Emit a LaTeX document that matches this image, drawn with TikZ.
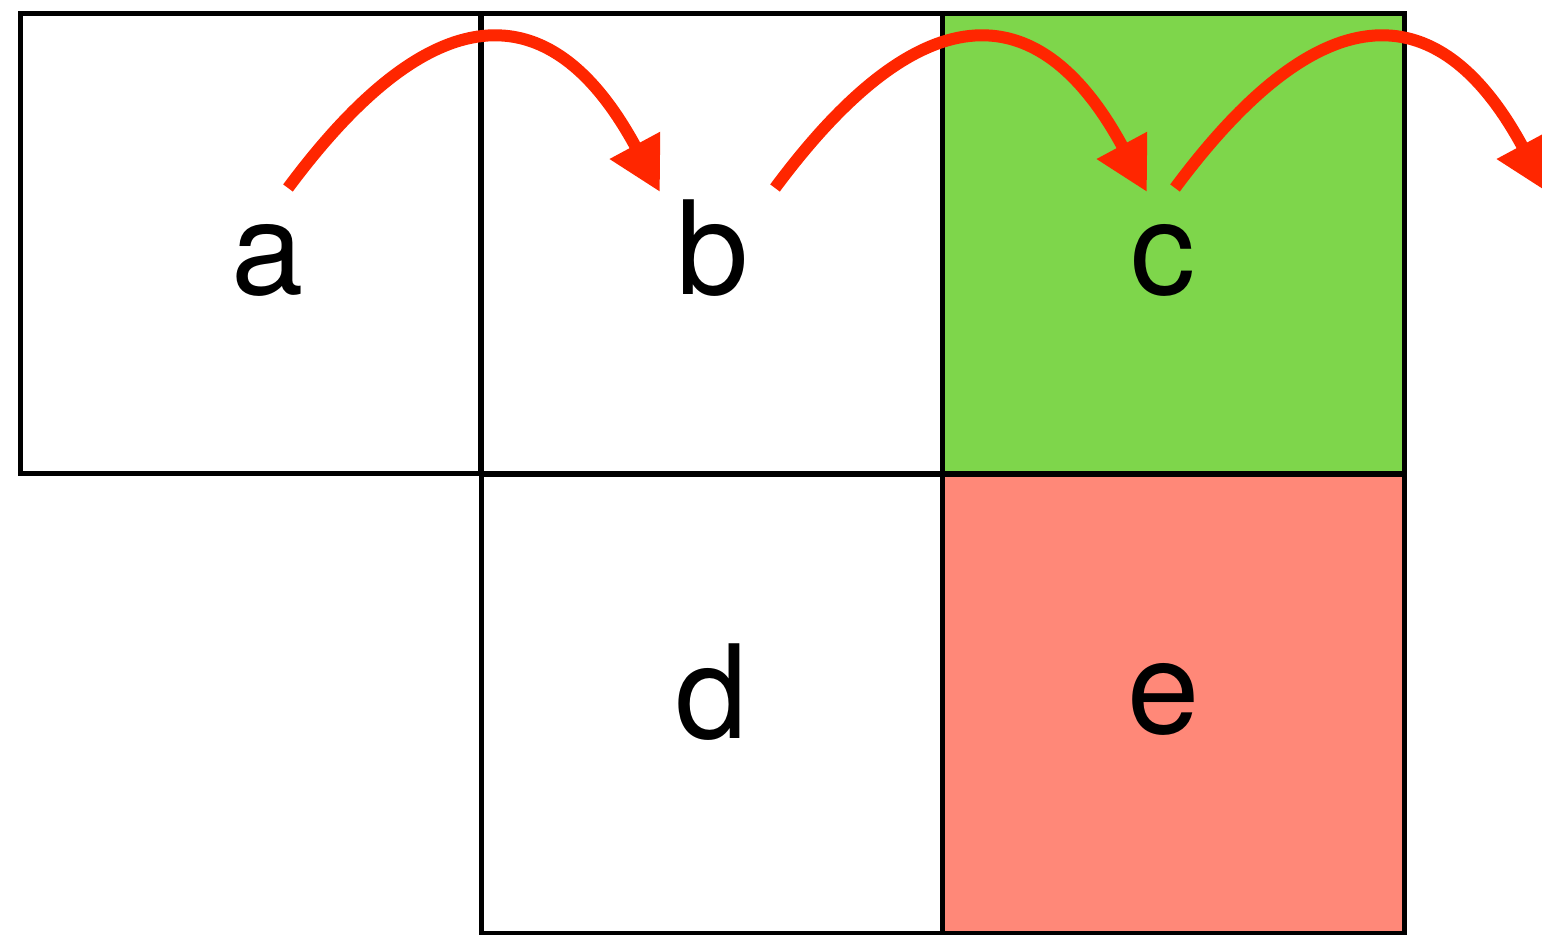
\documentclass[tikz,border=0pt]{standalone}
\usepackage{fontspec}
\setmainfont{TeX Gyre Heros}
\usetikzlibrary{arrows.meta}
\definecolor{cellgreen}{HTML}{7ED64B}
\definecolor{cellred}{HTML}{FF8878}
\definecolor{arrowred}{HTML}{FF2600}
\tikzset{
  cell/.style={draw=black, line width=2.5pt, minimum width=230.5pt, minimum height=230pt, inner sep=0pt, outer sep=0pt},
  lbl/.style={anchor=base, font=\fontsize{65}{78}\selectfont, inner sep=0pt},
  hop/.style={draw=arrowred, line width=6pt, -{Triangle[length=26.5pt,width=27pt]}}
}
\begin{document}
\begin{tikzpicture}[x=0.5pt,y=-0.5pt]
\useasboundingbox (0,0) rectangle (1542,935);
\clip (0,0) rectangle (1542,935);
% cells
\node[cell, fill=cellred, minimum height=229pt, minimum width=231pt] (boxe) at (1173,704) {};
\node[cell, fill=cellgreen, minimum width=231pt] (boxc) at (1173,244) {};
\node[cell, minimum width=230pt] (boxa) at (250,244) {};
\node[cell] (boxb) at (711.5,244) {};
\node[cell, minimum height=229pt] (boxd) at (711.5,704) {};
% labels
\node[lbl] (a) at (268,295) {a};
\node[lbl] (b) at (713,295) {b};
\node[lbl] (c) at (1163,295) {c};
\node[lbl] (d) at (712,738) {d};
\node[lbl] (e) at (1164,733) {e};
% arrow ends
\coordinate (s1) at (288,188);
\coordinate (t1) at (660,192);
\coordinate (s2) at (775,188);
\coordinate (t2) at (1147,192);
\coordinate (s3) at (1175,188);
\coordinate (t3) at (1547,192);
\draw[hop] (s1) .. controls +(141,-190) and +(-111,-206) .. (t1);
\draw[hop] (s2) .. controls +(141,-190) and +(-111,-206) .. (t2);
\draw[hop] (s3) .. controls +(141,-190) and +(-111,-206) .. (t3);
\end{tikzpicture}
\end{document}
